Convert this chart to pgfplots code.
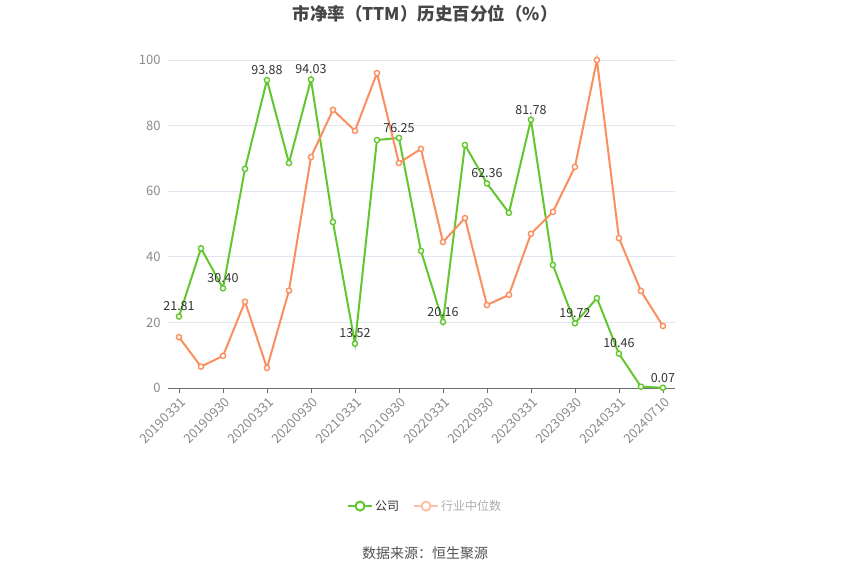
\documentclass[border=0pt]{standalone}
\usepackage{fontspec}
\setmainfont{Noto Sans CJK SC}
\usepackage{pgfplots}
\pgfplotsset{compat=1.18}
\definecolor{gongsi}{HTML}{62C72F}
\definecolor{hangye}{HTML}{FA8E5E}
\definecolor{hangyefade}{HTML}{FDC2A6}
\definecolor{gridc}{HTML}{E0E6F1}
\definecolor{axisc}{HTML}{6E7079}
\definecolor{tickc}{HTML}{8A8A8A}
\definecolor{titlec}{HTML}{464646}
\definecolor{labelc}{HTML}{333333}

\pgfplotstableread{
x gs hy
0 21.81 15.5
1 42.6 6.5
2 30.40 9.8
3 66.8 26.3
4 93.88 6.1
5 68.6 29.7
6 94.03 70.4
7 50.6 84.8
8 13.52 78.4
9 75.6 96.0
10 76.25 68.6
11 41.8 72.9
12 20.16 44.5
13 74.1 51.8
14 62.36 25.3
15 53.4 28.4
16 81.78 47.0
17 37.5 53.7
18 19.72 67.4
19 27.4 100.0
20 10.46 45.7
21 0.4 29.6
22 0.07 18.9
}\pctdata

\pgfplotstableread{
x gs
0 21.81
2 30.40
4 93.88
6 94.03
8 13.52
10 76.25
12 20.16
14 62.36
16 81.78
18 19.72
20 10.46
22 0.07
}\lbldata

\begin{document}
\begin{tikzpicture}[x=1pt,y=1pt]
\useasboundingbox (0,0) rectangle (850,575);
\node[font=\bfseries\fontsize{17.5}{20}\selectfont, text=titlec] at (425,561) {市净率（TTM）历史百分位（\%）};
\node[font=\fontsize{14}{16}\selectfont, text=labelc!85] at (425,22) {数据来源：恒生聚源};
\begin{axis}[
  at={(168pt,187pt)}, anchor=south west,
  scale only axis, width=507pt, height=328pt,
  xmin=-0.5, xmax=22.55, ymin=0, ymax=100,
  xtick={0,2,...,22},
  xticklabels={20190331,20190930,20200331,20200930,20210331,20210930,20220331,20220930,20230331,20230930,20240331,20240710},
  ytick={0,20,...,100},
  axis x line*=bottom, axis y line*=left,
  x axis line style={axisc, line width=0.8pt, -},
  y axis line style={draw=none},
  xtick style={axisc, line width=0.8pt},
  ytick style={draw=none},
  major tick length=5pt,
  tick align=outside,
  ymajorgrids, grid style={gridc, line width=0.8pt},
  tick label style={font=\fontsize{13}{15}\selectfont, text=tickc},
  /pgf/number format/assume math mode=true,
  xticklabel style={rotate=45, anchor=north east, inner sep=2pt, yshift=-1pt},
  yticklabel style={xshift=1pt},
  clip=false,
  legend style={at={(0.507,-0.36)}, anchor=center, draw=none, fill=none,
    legend columns=2, font=\fontsize{12}{14}\selectfont,
    /tikz/every even column/.append style={column sep=12pt}},
  legend cell align=left,
]
\addplot[gongsi, line width=2pt, mark=*, mark size=2.6pt,
  mark options={fill=white, draw=gongsi, line width=1.4pt}, forget plot] table[x=x,y=gs] {\pctdata};
\addplot[hangye, line width=2pt, mark=*, mark size=2.6pt,
  mark options={fill=white, draw=hangye, line width=1.4pt}, forget plot] table[x=x,y=hy] {\pctdata};
\addplot[draw=none, mark=none, forget plot,
  nodes near coords, point meta=y,
  every node near coord/.append style={font=\fontsize{12.5}{14}\selectfont, text=labelc, anchor=south, yshift=2pt,
    /pgf/number format/.cd, fixed, fixed zerofill, precision=2, assume math mode=true}]
  table[x=x,y=gs] {\lbldata};
\addlegendimage{legend image code/.code={
  \draw[gongsi, line width=2pt] (0pt,0pt) -- (24pt,0pt);
  \draw[gongsi, line width=2pt, fill=white] (12pt,0pt) circle (4.5pt);}}
\addlegendentry{\textcolor{labelc}{公司}}
\addlegendimage{legend image code/.code={
  \draw[hangyefade, line width=2pt] (0pt,0pt) -- (24pt,0pt);
  \draw[hangyefade, line width=2pt, fill=white] (12pt,0pt) circle (4.5pt);}}
\addlegendentry{\textcolor{tickc!70}{行业中位数}}
\end{axis}
\end{tikzpicture}
\end{document}
